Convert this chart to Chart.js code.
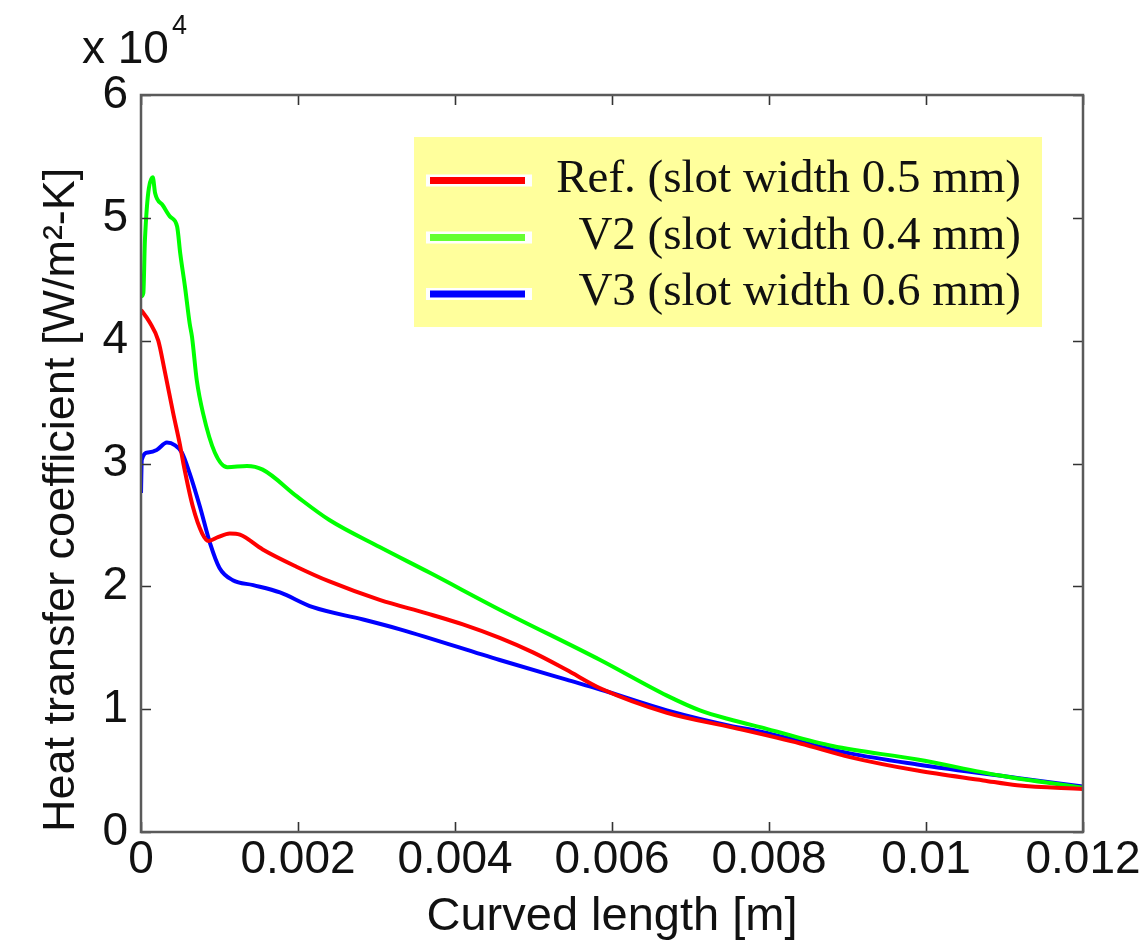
<!DOCTYPE html>
<html>
<head>
<meta charset="utf-8">
<script src="https://cdn.jsdelivr.net/npm/chart.js@4.4.1/dist/chart.umd.min.js"></script>
<style>
  html, body { margin: 0; padding: 0; background: #ffffff; }
  #wrap { width: 1148px; height: 945px; position: relative; }
</style>
</head>
<body>
<div id="wrap"><canvas id="c" width="1148" height="945"></canvas></div>
<script>
// ---- Data (curved length in m, heat transfer coefficient in units of 10^4 W/m^2-K) ----
const seriesLabels = ['Ref. (slot width 0.5 mm)', 'V2 (slot width 0.4 mm)', 'V3 (slot width 0.6 mm)'];

const lengthRef = [0, 0.00011, 0.00022, 0.0003, 0.00041, 0.0005, 0.00054, 0.00066, 0.00078, 0.00086, 0.00098, 0.00113, 0.00126, 0.00155, 0.00198, 0.0024, 0.00304, 0.00364, 0.0041, 0.00457, 0.005, 0.00542, 0.00585, 0.0067, 0.00754, 0.0084, 0.00903, 0.00989, 0.01073, 0.01116, 0.012];
const htcRef    = [4.25, 4.15, 4.0, 3.76, 3.41, 3.14, 3.0, 2.65, 2.43, 2.37, 2.40, 2.43, 2.42, 2.30, 2.16, 2.04, 1.89, 1.78, 1.69, 1.58, 1.46, 1.32, 1.17, 0.97, 0.85, 0.72, 0.61, 0.50, 0.42, 0.38, 0.35];

const lengthV2 = [0, 0.00003, 0.00005, 0.00015, 0.00018, 0.00028, 0.00037, 0.00046, 0.0005, 0.00056, 0.00062, 0.00065, 0.00071, 0.00079, 0.00094, 0.0011, 0.00135, 0.00155, 0.00199, 0.0024, 0.00304, 0.00368, 0.00457, 0.00585, 0.0067, 0.00712, 0.00754, 0.00797, 0.00881, 0.00989, 0.01094, 0.012];
const htcV2    = [4.36, 4.39, 4.82, 5.33, 5.20, 5.10, 5.01, 4.93, 4.71, 4.44, 4.14, 4.03, 3.68, 3.41, 3.09, 2.97, 2.98, 2.95, 2.73, 2.54, 2.32, 2.11, 1.81, 1.40, 1.11, 0.99, 0.91, 0.84, 0.70, 0.59, 0.46, 0.36];

const lengthV3 = [0, 0.00001, 0.00009, 0.0002, 0.00033, 0.00043, 0.00052, 0.00062, 0.00075, 0.00088, 0.001, 0.00117, 0.00143, 0.00177, 0.00219, 0.00283, 0.0033, 0.00457, 0.00542, 0.00585, 0.0067, 0.00754, 0.0078, 0.00903, 0.00989, 0.01116, 0.012];
const htcV3    = [2.76, 3.03, 3.09, 3.11, 3.17, 3.15, 3.09, 2.92, 2.65, 2.35, 2.15, 2.05, 2.01, 1.95, 1.83, 1.73, 1.65, 1.40, 1.24, 1.16, 0.99, 0.86, 0.83, 0.64, 0.55, 0.44, 0.37];

const xTickValues = [0, 0.002, 0.004, 0.006, 0.008, 0.01, 0.012];
const yTickValues = [0, 1, 2, 3, 4, 5, 6];
const yScaleNote = 'x 10';
const yScaleExp = '4';

const seriesColors = ['#ff0000', '#00ff00', '#0000ff'];
const legendColors = ['#ff0000', '#66ff33', '#0000ff'];

function toPoints(xs, ys) { return xs.map((x, i) => ({ x: x, y: ys[i] })); }

// ---- Plugins ----
const framePlugin = {
  id: 'frame',
  afterDatasetsDraw(chart) {
    const { ctx, chartArea: a, scales } = chart;
    ctx.save();
    ctx.strokeStyle = '#333333';
    ctx.lineWidth = 1.6;
    const tl = 10;
    ctx.beginPath();
    xTickValues.forEach(v => {
      const px = Math.round(scales.x.getPixelForValue(v)) + 0.5;
      ctx.moveTo(px, a.bottom); ctx.lineTo(px, a.bottom - tl);
      ctx.moveTo(px, a.top); ctx.lineTo(px, a.top + tl);
    });
    yTickValues.forEach(v => {
      const py = Math.round(scales.y.getPixelForValue(v)) + 0.5;
      ctx.moveTo(a.left, py); ctx.lineTo(a.left + tl, py);
      ctx.moveTo(a.right, py); ctx.lineTo(a.right - tl, py);
    });
    ctx.stroke();
    ctx.strokeStyle = '#5a5a5a';
    ctx.lineWidth = 2.5;
    ctx.strokeRect(a.left, a.top, a.right - a.left, a.bottom - a.top);

    // exponent note
    ctx.fillStyle = '#111111';
    ctx.textBaseline = 'alphabetic';
    ctx.textAlign = 'left';
    ctx.font = '46px "Liberation Sans", Arial, sans-serif';
    ctx.fillText(yScaleNote, 82, 63);
    const w = ctx.measureText(yScaleNote).width;
    ctx.font = '27px "Liberation Sans", Arial, sans-serif';
    ctx.fillText(yScaleExp, 82 + w + 3, 34);
    ctx.restore();
  }
};

const boxLegendPlugin = {
  id: 'boxLegend',
  afterDraw(chart) {
    const { ctx } = chart;
    const box = { l: 414, t: 137, r: 1042, b: 327 };
    const rows = [180.5, 237.5, 294];
    ctx.save();
    ctx.fillStyle = '#ffff9c';
    ctx.fillRect(box.l, box.t, box.r - box.l, box.b - box.t);
    chart.data.datasets.forEach((ds, i) => {
      const y = rows[i];
      ctx.fillStyle = '#ffffff';
      ctx.fillRect(426, y - 6, 106, 12);
      ctx.fillStyle = legendColors[i];
      ctx.fillRect(430, y - 3.5, 95, 7);
      ctx.fillStyle = '#111111';
      ctx.font = '47px "Liberation Serif", "Times New Roman", serif';
      ctx.textAlign = 'right';
      ctx.textBaseline = 'middle';
      ctx.fillText(ds.label, 1021, y - 1);
    });
    ctx.restore();
  }
};

// ---- Chart ----
const tickFont = { family: '"Liberation Sans", Arial, sans-serif', size: 46 };

new Chart(document.getElementById('c'), {
  type: 'line',
  data: {
    datasets: [
      { label: seriesLabels[0], data: toPoints(lengthRef, htcRef), borderColor: seriesColors[0] },
      { label: seriesLabels[1], data: toPoints(lengthV2, htcV2), borderColor: seriesColors[1] },
      { label: seriesLabels[2], data: toPoints(lengthV3, htcV3), borderColor: seriesColors[2] }
    ].map(d => Object.assign(d, {
      borderWidth: 4, pointRadius: 0, fill: false, cubicInterpolationMode: 'monotone', backgroundColor: d.borderColor
    }))
  },
  options: {
    responsive: false,
    animation: false,
    devicePixelRatio: 1,
    layout: { padding: { left: 0, top: 95, right: 65, bottom: 0 } },
    plugins: { legend: { display: false }, tooltip: { enabled: false } },
    scales: {
      x: {
        type: 'linear', min: 0, max: 0.012,
        afterFit(s) { s.height = 113; },
        afterBuildTicks(s) { s.ticks = xTickValues.map(v => ({ value: v })); },
        grid: { display: false, drawTicks: false },
        border: { display: false },
        ticks: {
          color: '#111111', font: tickFont, padding: 1, maxRotation: 0, autoSkip: false,
          callback: v => String(Number(v.toFixed(3)))
        },
        title: {
          display: true, text: 'Curved length [m]', color: '#111111',
          font: { family: '"Liberation Sans", Arial, sans-serif', size: 47 },
          padding: { top: 0, bottom: 0 }
        }
      },
      y: {
        type: 'linear', min: 0, max: 6,
        afterFit(s) { s.width = 141; },
        afterBuildTicks(s) { s.ticks = yTickValues.map(v => ({ value: v })); },
        grid: { display: false, drawTicks: false },
        border: { display: false },
        ticks: { color: '#111111', font: tickFont, padding: 13, autoSkip: false },
        title: {
          display: true, text: 'Heat transfer coefficient [W/m²-K]', color: '#111111', align: 'start',
          font: { family: '"Liberation Sans", Arial, sans-serif', size: 45 },
          padding: { top: 35, bottom: 0 }
        }
      }
    }
  },
  plugins: [framePlugin, boxLegendPlugin]
});
</script>
</body>
</html>
